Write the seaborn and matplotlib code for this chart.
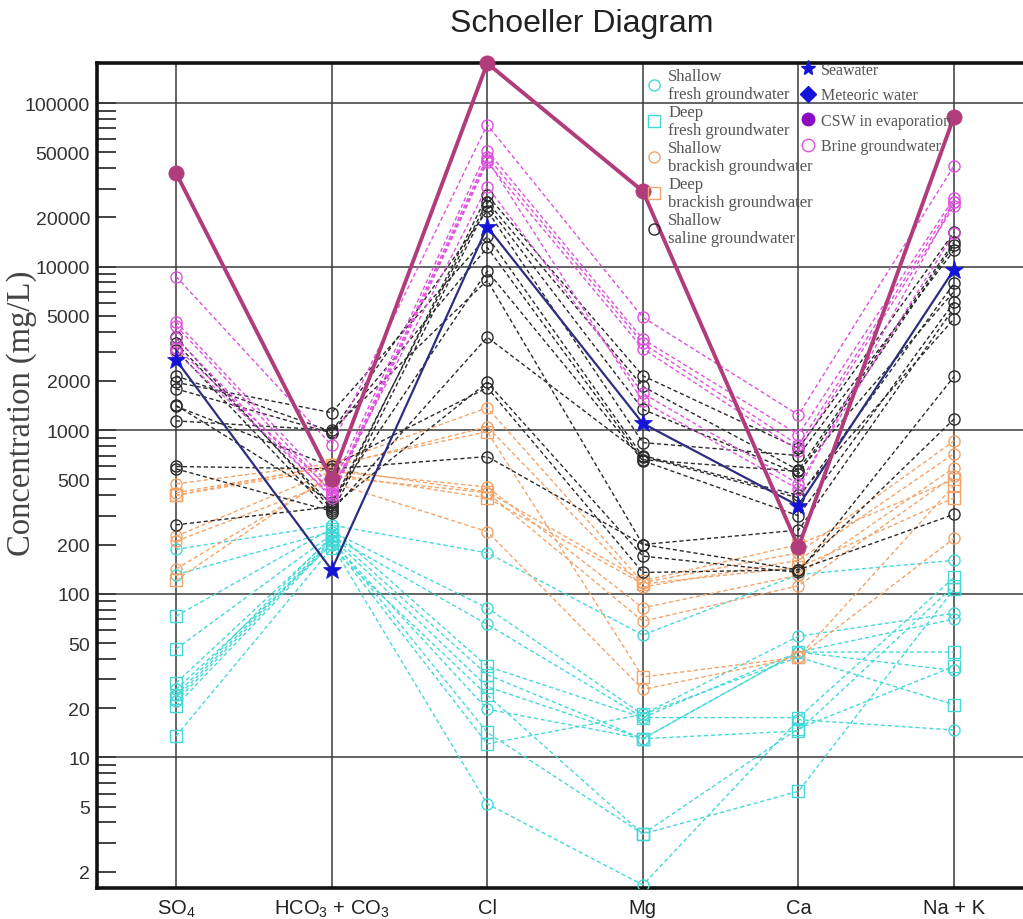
import numpy as np
import pandas as pd
import matplotlib
matplotlib.use("Agg")
import matplotlib.pyplot as plt
import seaborn as sns
from matplotlib.lines import Line2D
from matplotlib.ticker import FixedLocator, NullFormatter, FixedFormatter

# ---------------- data ----------------
ions = ["SO$_4$", "HCO$_3$ + CO$_3$", "Cl", "Mg", "Ca", "Na + K"]

shallow_fresh = [
    [187, 263, 178, 56, 131, 160],
    [131, 240, 82, 18.3, 55, 76],
    [24, 225, 65, 17.5, 44, 70],
    [22, 210, 19.7, 13, 44, 34],
    [26, 200, 5.2, 1.66, 17, 14.7],
]
deep_fresh = [
    [73, 250, 36, 17.5, 17.5, 126],
    [46, 230, 32, 13, 14.5, 112],
    [28.5, 220, 27, 13, 44, 44],
    [23, 215, 14.2, 3.4, 6.2, 107],
    [20.6, 205, 12.1, 18.3, 41, 21],
    [13.5, 190, 24, 3.4, 15, 36],
]
shallow_brackish = [
    [470, 625, 1370, 117, 178, 860],
    [415, 600, 1050, 110, 160, 720],
    [225, 560, 450, 82, 130, 590],
    [142, 520, 415, 68, 112, 525],
    [210, 480, 240, 26, 41, 218],
]
deep_brackish = [
    [400, 610, 980, 31, 41, 460],
    [121, 540, 386, 115, 145, 386],
    [400, 580, 420, 120, 200, 500],
]
shallow_saline = [
    [3700, 330, 27300, 2150, 775, 16200],
    [3400, 350, 24900, 1850, 570, 14200],
    [3100, 310, 23500, 1340, 540, 13600],
    [2150, 980, 22000, 840, 700, 12600],
    [1960, 1280, 15300, 690, 386, 7900],
    [1790, 960, 13100, 660, 560, 7050],
    [1420, 365, 9400, 650, 300, 6050],
    [1140, 1000, 8250, 200, 245, 5600],
    [580, 320, 3700, 700, 400, 4800],
    [264, 340, 1960, 170, 135, 2130],
    [1400, 600, 1820, 135, 140, 1170],
    [600, 580, 690, 200, 140, 306],
]
brine = [
    [8700, 810, 73600, 4900, 1240, 41400],
    [4600, 450, 51000, 3600, 940, 26300],
    [4350, 415, 47000, 3400, 810, 24900],
    [3650, 386, 43500, 3150, 750, 23400],
    [3200, 430, 30800, 1680, 470, 16000],
    [3000, 400, 45000, 1500, 435, 25000],
]
seawater = [2690, 140, 17500, 1100, 345, 9600]
csw_evaporation = [37300, 505, 175000, 28900, 193, 82700]

decades = [10, 100, 1000, 10000, 100000]
ytick_major = [2, 5, 10, 20, 50, 100, 200, 500, 1000, 2000, 5000,
               10000, 20000, 50000, 100000]
ytick_minor = [k * 10 ** n for n in range(0, 5) for k in range(2, 10)
               if k * 10 ** n not in ytick_major]

# ---------------- style ----------------
CYAN = "#45D8D8"
ORANGE = "#F2A46A"
BLACK = "#2a2a2a"
MAGENTA = "#E050E0"
CSW_C = "#B03C7C"
SEA_LINE = "#2E2E80"
SEA_MARK = "#1414D8"
PURPLE = "#8E0CC0"

sns.set_theme(style="white")
plt.rcParams["font.family"] = ["Liberation Sans", "DejaVu Sans"]
plt.rcParams["mathtext.fontset"] = "custom"
plt.rcParams["mathtext.rm"] = "Liberation Sans"
plt.rcParams["mathtext.default"] = "regular"

fig = plt.figure(figsize=(10.23, 9.2), dpi=100)
ax = fig.add_axes([97 / 1023, 1 - 889 / 920, (1023 - 97) / 1023, (889 - 64) / 920])
ax.set_yscale("log")


def make_df(samples, name):
    rows = []
    for i, s in enumerate(samples):
        for ion, v in zip(ions, s):
            rows.append({"group": name, "sample": f"{name}{i}", "ion": ion, "value": v})
    return pd.DataFrame(rows)


groups = [
    (shallow_fresh, "sf", CYAN, "o"),
    (deep_fresh, "df", CYAN, "s"),
    (shallow_brackish, "sb", ORANGE, "o"),
    (deep_brackish, "db", ORANGE, "s"),
    (shallow_saline, "ss", BLACK, "o"),
    (brine, "br", MAGENTA, "o"),
]
for samples, name, col, mk in groups:
    d = make_df(samples, name)
    sns.lineplot(data=d, x="ion", y="value", units="sample", estimator=None,
                 sort=False, color=col, linestyle=(0, (3, 2)), linewidth=1.0,
                 marker=mk, markersize=8, markerfacecolor="none",
                 markeredgecolor=col, markeredgewidth=1.0, ax=ax,
                 legend=False, zorder=3)

d_sea = make_df([seawater], "sea")
sns.lineplot(data=d_sea, x="ion", y="value", units="sample", estimator=None,
             sort=False, color=SEA_LINE, linewidth=1.6, marker="*",
             markersize=14, markerfacecolor=SEA_MARK, markeredgecolor=SEA_MARK,
             markeredgewidth=0.5, ax=ax, legend=False, zorder=5)

d_csw = make_df([csw_evaporation], "csw")
sns.lineplot(data=d_csw, x="ion", y="value", units="sample", estimator=None,
             sort=False, color=CSW_C, linewidth=2.8, marker="o",
             markersize=11, markerfacecolor=CSW_C, markeredgecolor=CSW_C,
             markeredgewidth=0.5, ax=ax, legend=False, zorder=6, clip_on=False)

# ---------------- axes ----------------
ax.set_ylim(1.59, 1.757e5)
ax.set_xlim(-0.508, 5.443)
ax.yaxis.set_major_locator(FixedLocator(ytick_major))
ax.yaxis.set_major_formatter(FixedFormatter([str(v) for v in ytick_major]))
ax.yaxis.set_minor_locator(FixedLocator(ytick_minor))
ax.yaxis.set_minor_formatter(NullFormatter())
ax.tick_params(axis="y", which="both", direction="in", length=14, width=1.3,
               color="#333333", labelsize=14, labelcolor="#333333", pad=5,
               left=True)
ax.tick_params(axis="x", length=0, labelsize=14.5, labelcolor="#222222", pad=7)
ax.set_xlabel("")
ax.set_ylabel("")

for v in decades:
    ax.axhline(v, color="#3a3a3a", lw=1.1, zorder=1)
ax.xaxis.grid(True, color="#3a3a3a", lw=1.1, zorder=1)
ax.set_axisbelow(True)

for side in ["left", "top", "bottom"]:
    ax.spines[side].set_linewidth(2.6)
    ax.spines[side].set_color("#111111")
ax.spines["right"].set_visible(False)

fig.text(582 / 1023, 1 - 24 / 920, "Schoeller Diagram", ha="center", va="center",
         fontsize=23, color="#222222")
fig.text(22 / 1023, 1 - 413 / 920, "Concentration (mg/L)", rotation=90,
         ha="center", va="center", fontsize=23.5, color="#444444",
         family=["Liberation Serif", "DejaVu Serif"])

# ---------------- legends ----------------
def hollow(mk, c, ms=8):
    return Line2D([], [], ls="none", marker=mk, mfc="none", mec=c, ms=ms, mew=1.0)


h1 = [hollow("o", CYAN), hollow("s", CYAN), hollow("o", ORANGE),
      hollow("s", ORANGE), hollow("o", BLACK)]
l1 = ["Shallow\nfresh groundwater", "Deep\nfresh groundwater",
      "Shallow\nbrackish groundwater", "Deep\nbrackish groundwater",
      "Shallow\nsaline groundwater"]
serif1 = {"family": ["Liberation Serif", "DejaVu Serif"], "size": 12}
serif2 = {"family": ["Liberation Serif", "DejaVu Serif"], "size": 11.5}
leg1 = fig.legend(h1, l1, loc="upper left", bbox_to_anchor=(645 / 1023, 1 - 67 / 920),
                  frameon=False, prop=serif1, handlelength=0.9, handletextpad=0.4,
                  labelspacing=0.08, borderpad=0.1, borderaxespad=0)
for t in leg1.get_texts():
    t.set_color("#555555")
    t.set_linespacing(1.22)

h2 = [Line2D([], [], ls="none", marker="*", mfc=SEA_MARK, mec=SEA_MARK, ms=11),
      Line2D([], [], ls="none", marker="D", mfc=SEA_MARK, mec=SEA_MARK, ms=8),
      Line2D([], [], ls="none", marker="o", mfc=PURPLE, mec=PURPLE, ms=9),
      hollow("o", MAGENTA, 9)]
l2 = ["Seawater", "Meteoric water", "CSW in evaporation", "Brine groundwater"]
leg2 = fig.legend(h2, l2, loc="upper left", bbox_to_anchor=(799 / 1023, 1 - 61 / 920),
                  frameon=False, prop=serif2, handlelength=0.9, handletextpad=0.4,
                  labelspacing=0.6, borderpad=0.1, borderaxespad=0)
for t in leg2.get_texts():
    t.set_color("#555555")

fig.savefig("out.png", dpi=100)
